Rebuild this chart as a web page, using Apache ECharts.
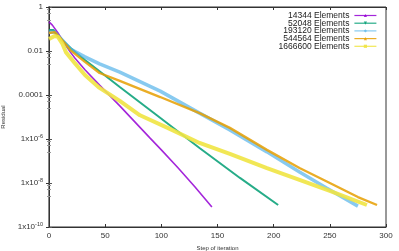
<!DOCTYPE html>
<html><head><meta charset="utf-8">
<script src="https://cdn.jsdelivr.net/npm/echarts@6/dist/echarts.min.js"></script>
<style>html,body{margin:0;padding:0;background:#fff}#c{width:399px;height:251px}</style>
</head><body><div id="c"></div>
<script>
// Series names
const seriesNames = ['14344 Elements','52048 Elements','193120 Elements','544564 Elements','1666600 Elements'];
// Data (step, residual)
const steps14344 = [0,3,8,14,19,23,32,45,63,90,100,115,130,145];
const res14344   = [0.21,0.15,0.066,0.021,0.0089,0.0048,0.0014,2.8e-4,3.2e-5,1.1e-6,3.2e-7,4.8e-8,6.6e-9,8.1e-10];
const steps52048 = [0,4,10,19,32,45,63,96,134,170,204];
const res52048   = [0.089,0.089,0.039,0.014,0.0039,0.0012,2.3e-4,1.2e-5,3.9e-7,1.7e-8,1.0e-9];
const steps193120 = [0,5,10,19,32,45,63,99,134,161,194,223,247,275];
const res193120   = [0.072,0.072,0.039,0.0123,0.0054,0.0026,0.0011,1.5e-4,1.5e-5,2.6e-6,2.6e-7,3.2e-8,5.9e-9,8.9e-10];
const steps544564 = [0,5,10,19,32,45,63,99,134,161,194,223,250,275,292];
const res544564   = [0.066,0.072,0.039,0.011,0.0032,0.001,4.4e-4,8.1e-5,1.5e-5,3.2e-6,3.2e-7,4.8e-8,1e-8,2.3e-9,1e-9];
const steps1666600 = [0,5,8,12,15,23,32,45,63,81,108,134,161,194,223,250,283];
const res1666600   = [0.035,0.048,0.044,0.021,0.0089,0.0028,8.1e-4,2.1e-4,5.4e-5,1.2e-5,2.8e-6,6.6e-7,2.1e-7,4.8e-8,1.4e-8,4.4e-9,1e-9];
// Axis settings
const xTicks = [0,50,100,150,200,250,300];
const yMin = 1e-10, yMax = 1;

const allSteps = [steps14344,steps52048,steps193120,steps544564,steps1666600];
const allRes = [res14344,res52048,res193120,res544564,res1666600];
const colors = ['#9400d3','#009e73','#56b4e9','#e69f00','#f0e442'];
const widths = [1.6,2,3.5,2.4,4];
const opac = [0.85,0.85,0.7,0.85,0.9];
const symbols = ['triangle','triangle','diamond','triangle','rect'];
const rots = [0,180,0,0,0];

const series = seriesNames.map((n,i)=>({
  name:n, type:'line', showSymbol:false, symbol:symbols[i], symbolSize:4, symbolRotate:rots[i],
  data: allSteps[i].map((s,j)=>[s, allRes[i][j]]),
  itemStyle:{color:colors[i], opacity:opac[i]},
  lineStyle:{color:colors[i], width:widths[i], opacity:opac[i]},
  z: 2+i, animation:false
}));

const legends = seriesNames.map((n,i)=>({
  data:[n], right:22, top:11 + i*7.7, orient:'vertical', align:'right',
  itemWidth:22, itemHeight:4, itemGap:0, padding:0,
  lineStyle:{width:1.2},
  textStyle:{fontSize:8.5, color:'#222', fontFamily:'Liberation Sans', padding:[0,0,0,0]}
}));

const font = 'Liberation Sans';
const chart = echarts.init(document.getElementById('c'), null, {renderer:'canvas'});
chart.setOption({
  animation:false,
  backgroundColor:'#fff',
  grid:{left:49, right:13, top:7, bottom:24, show:true, borderColor:'#333', borderWidth:1, containLabel:false, outerBoundsMode:'none'},
  legend: legends,
  xAxis:[{
    type:'value', min:xTicks[0], max:xTicks[xTicks.length-1], interval:50,
    name:'Step of iteration', nameLocation:'middle', nameGap:16,
    nameTextStyle:{fontSize:6, color:'#333', fontFamily:font},
    axisLine:{show:true, onZero:false, lineStyle:{color:'#333', width:1}},
    axisTick:{show:true, inside:true, length:3, lineStyle:{color:'#333'}},
    axisLabel:{fontSize:8, color:'#333', margin:5, fontFamily:font},
    splitLine:{show:false}
  },{
    type:'value', position:'top', min:xTicks[0], max:xTicks[xTicks.length-1], interval:50,
    axisLine:{show:true, lineStyle:{color:'#333'}},
    axisTick:{show:true, inside:true, length:3, lineStyle:{color:'#333'}},
    axisLabel:{show:false}, splitLine:{show:false}
  }],
  yAxis:[{
    type:'log', logBase:10, min:yMin, max:yMax, interval:2,
    name:'Residual', nameLocation:'middle', nameGap:40, nameRotate:90,
    nameTextStyle:{fontSize:6, color:'#333', fontFamily:font},
    axisLine:{show:true, lineStyle:{color:'#888', width:2}},
    axisTick:{show:true, inside:true, length:3, lineStyle:{color:'#555'}},
    minorTick:{show:true, splitNumber:4, length:2, lineStyle:{color:'#999'}},
    axisLabel:{fontSize:8, color:'#333', margin:6, fontFamily:font,
      formatter:function(v){
        const e = Math.round(Math.log10(v));
        if (e >= -4) return e===0 ? '1' : '0.' + '0'.repeat(-e-1) + '1';
        return '1x10{s|' + e + '}';
      },
      rich:{s:{fontSize:5.5, verticalAlign:'top', padding:[0,0,5,0], color:'#333', fontFamily:font}}
    },
    splitLine:{show:false}
  },{
    type:'log', logBase:10, min:yMin, max:yMax, interval:2, position:'right',
    axisLine:{show:true, lineStyle:{color:'#333'}},
    axisTick:{show:true, inside:true, length:3, lineStyle:{color:'#333'}},
    minorTick:{show:true, splitNumber:4, length:2, lineStyle:{color:'#999'}},
    axisLabel:{show:false}, splitLine:{show:false}
  }],
  series: series
});
</script></body></html>
